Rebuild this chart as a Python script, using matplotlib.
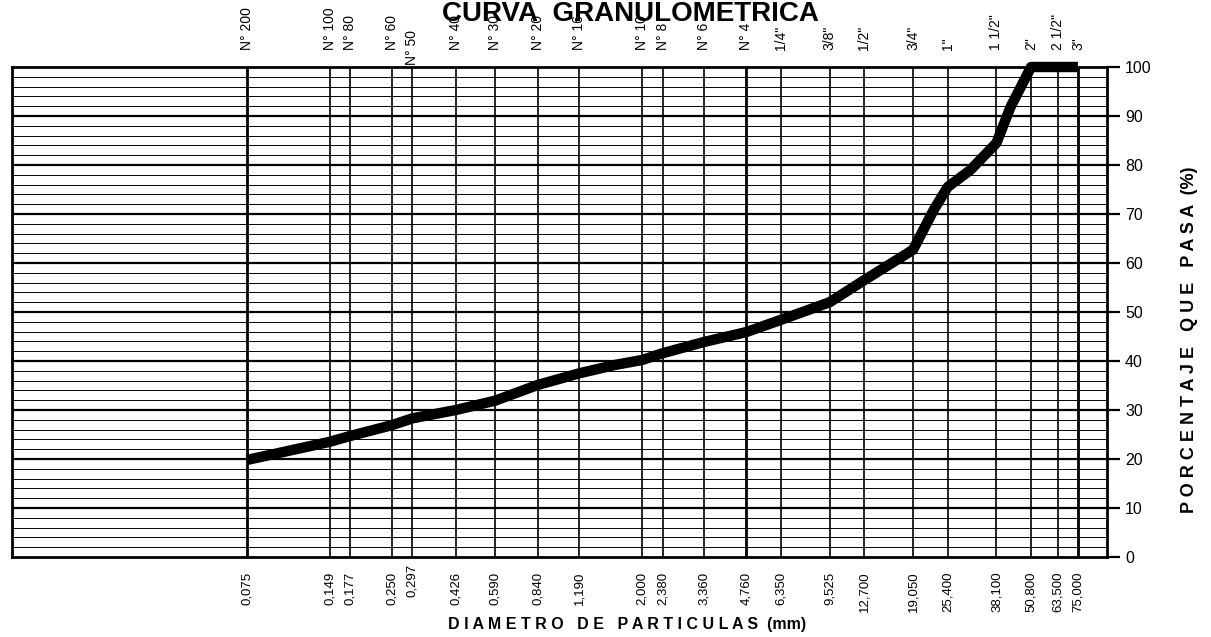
import matplotlib
matplotlib.use('Agg')
import matplotlib.pyplot as plt
import numpy as np

plt.rcParams['font.family'] = ['Liberation Sans', 'DejaVu Sans']

# tamices: abertura (mm) y designacion
tamiz_mm = [0.075, 0.149, 0.177, 0.250, 0.297, 0.426, 0.590, 0.840, 1.190,
            2.000, 2.380, 3.360, 4.760, 6.350, 9.525, 12.700, 19.050, 25.400,
            38.100, 50.800, 63.500, 75.000]
tamiz_txt = ['0,075', '0,149', '0,177', '0,250', '0,297', '0,426', '0,590', '0,840', '1,190',
             '2,000', '2,380', '3,360', '4,760', '6,350', '9,525', '12,700', '19,050', '25,400',
             '38,100', '50,800', '63,500', '75,000']
tamiz_nombre = ['N° 200', 'N° 100', 'N° 80', 'N° 60', 'N° 50', 'N° 40', 'N° 30', 'N° 20', 'N° 16',
                'N° 10', 'N° 8', 'N° 6', 'N° 4', '1/4"', '3/8"', '1/2"', '3/4"', '1"',
                '1 1/2"', '2"', '2 1/2"', '3"']

# curva (diametro mm, % que pasa)
curva_d = [0.075, 0.149, 0.177, 0.250, 0.297, 0.426, 0.590, 0.840, 1.190, 1.6,
           2.000, 2.380, 3.360, 4.760, 6.350, 9.525, 12.700, 19.050, 22.6, 25.400,
           30.7, 38.100, 42.8, 50.800, 63.500, 75.000]
curva_p = [19.8, 23.5, 24.7, 26.9, 28.3, 30.0, 31.9, 35.1, 37.5, 39.2,
           40.2, 41.6, 43.9, 45.9, 48.4, 52.0, 56.5, 62.7, 70.8, 75.5,
           79.0, 84.5, 91.8, 100, 100, 100]

fig = plt.figure(figsize=(12.11, 6.37), dpi=100)
ax = fig.add_axes([12/1211, 80/637, 1095/1211, 490/637])
ax.set_xscale('log')
ax.set_xlim(0.01064, 95.5)
ax.set_ylim(0, 100)

# lineas horizontales
for y in range(2, 100, 2):
    if y % 10 == 0:
        ax.axhline(y, color='black', lw=1.6, zorder=1)
    else:
        ax.axhline(y, color='black', lw=0.7, zorder=1)

# lineas verticales en cada tamiz
for d in tamiz_mm:
    grueso = d in (0.075, 4.760, 75.000)
    ax.axvline(d, color='black', lw=2.0 if grueso else 1.2, zorder=1)

ax.plot(curva_d, curva_p, color='black', lw=7.5, solid_joinstyle='round',
        solid_capstyle='butt', zorder=3, clip_on=False)

for s in ax.spines.values():
    s.set_linewidth(2.0)

ax.set_xticks([])
ax.minorticks_off()
ax.yaxis.tick_right()
ax.set_yticks(range(0, 101, 10))
ax.tick_params(axis='y', length=9, width=1.6, labelsize=11.5, pad=4)

# etiquetas inferiores (diametro)
for d, t in zip(tamiz_mm, tamiz_txt):
    yy = -0.015 if t == '0,297' else -0.03
    ax.text(d, yy, t, transform=ax.get_xaxis_transform(), rotation=90,
            ha='center', va='top', fontsize=9.5)

# etiquetas superiores (tamiz)
for d, t in zip(tamiz_mm, tamiz_nombre):
    yy = 1.005 if t == 'N° 50' else 1.035
    ax.text(d, yy, t, transform=ax.get_xaxis_transform(), rotation=90,
            ha='center', va='bottom', fontsize=10)

fig.text(630/1211, 1 - 21/637, 'CURVA  GRANULOMETRICA', ha='center', va='baseline',
         fontsize=20, fontweight='bold')
fig.text(627/1211, 1 - 625/637, 'D I A M E T R O   D E   P A R T I C U L A S  (mm)',
         ha='center', va='center', fontsize=11.5, fontweight='bold')
fig.text(1190/1211, 1 - 340/637, 'P O R C E N T A J E   Q U E   P A S A  (%)',
         ha='center', va='center', rotation=90, fontsize=13, fontweight='bold')

fig.savefig('out.png', dpi=100, facecolor='white')
